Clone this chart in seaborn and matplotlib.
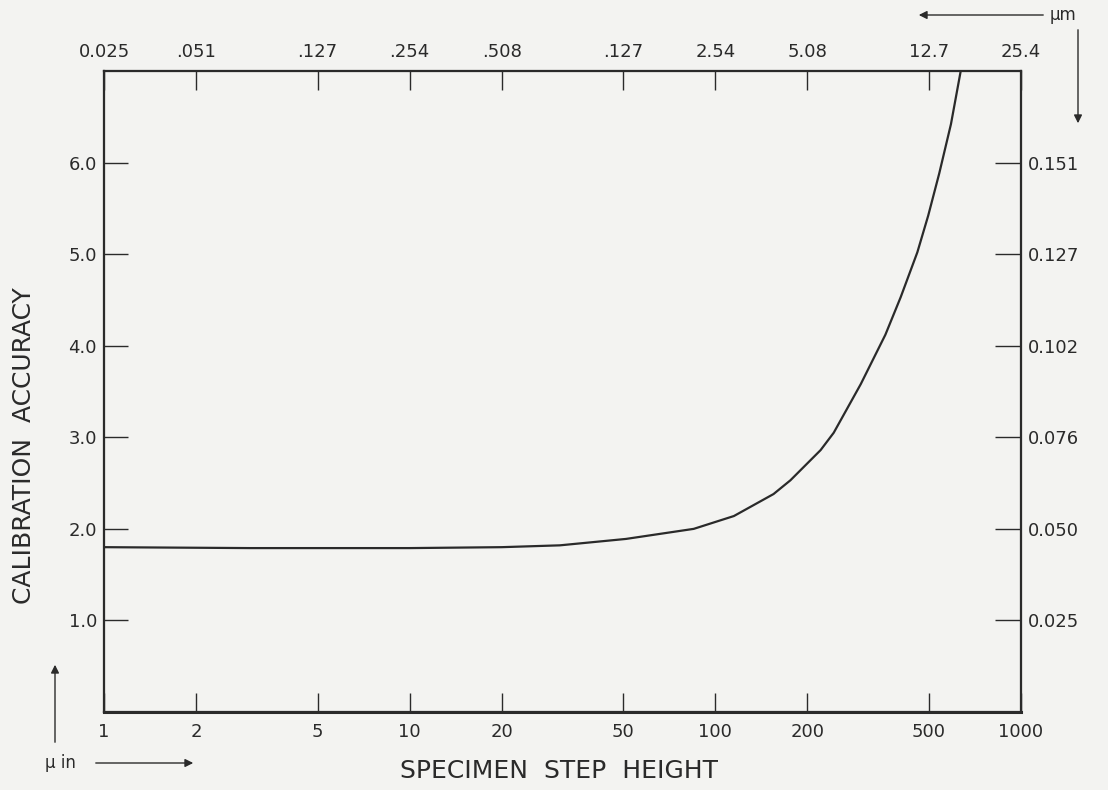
import numpy as np
import pandas as pd
import seaborn as sns
import matplotlib.pyplot as plt

# step height (micro-inch) and calibration accuracy
step_uin = [1, 3, 10, 20, 31, 51, 85, 115, 155, 176, 221, 244, 299, 360, 404, 458, 497, 540, 590, 635]
accuracy = [1.80, 1.79, 1.79, 1.80, 1.82, 1.89, 2.00, 2.14, 2.38, 2.53, 2.86, 3.05, 3.58, 4.12, 4.53,
            5.02, 5.42, 5.88, 6.42, 7.0]

# axis ticks
bottom_ticks = [1, 2, 5, 10, 20, 50, 100, 200, 500, 1000]
bottom_labels = ['1', '2', '5', '10', '20', '50', '100', '200', '500', '1000']
top_labels = ['0.025', '.051', '.127', '.254', '.508', '.127', '2.54', '5.08', '12.7', '25.4']
left_ticks = [1, 2, 3, 4, 5, 6]
left_labels = ['1.0', '2.0', '3.0', '4.0', '5.0', '6.0']
right_labels = ['0.025', '0.050', '0.076', '0.102', '0.127', '0.151']

df = pd.DataFrame({'step': step_uin, 'acc': accuracy})

bg = '#f3f3f1'
ink = '#2a2a2a'

sns.set_theme(style='white')
plt.rcParams['font.family'] = ['DejaVu Sans']

W, H = 1108, 790
fig = plt.figure(figsize=(W / 100, H / 100), dpi=100, facecolor=bg)
ax = fig.add_axes([104 / W, 1 - 712 / H, (1021 - 104) / W, (712 - 71) / H])
ax.set_facecolor(bg)

sns.lineplot(data=df, x='step', y='acc', ax=ax, color=ink, linewidth=1.6)

ax.set_xscale('log')
ax.set_xlim(1, 1000)
ax.set_ylim(0, 7)
ax.set_xticks(bottom_ticks)
ax.set_xticklabels(bottom_labels)
ax.minorticks_off()
ax.set_yticks(left_ticks)
ax.set_yticklabels(left_labels)
ax.set_xlabel('')
ax.set_ylabel('')
ax.tick_params(axis='x', direction='in', length=14, width=1.0, color=ink,
               labelsize=13, labelcolor=ink, pad=8)
ax.tick_params(axis='y', direction='in', length=17, width=1.0, color=ink,
               labelsize=13, labelcolor=ink, pad=5)

# top axis in micrometres
top = ax.twiny()
top.set_xscale('log')
top.set_xlim(1, 1000)
top.set_xticks(bottom_ticks)
top.set_xticklabels(top_labels)
top.minorticks_off()
top.tick_params(axis='x', direction='in', length=14, width=1.0, color=ink,
                labelsize=13, labelcolor=ink, pad=7)

# right axis in micrometres
right = ax.twinx()
right.set_ylim(0, 7)
right.set_yticks(left_ticks)
right.set_yticklabels(right_labels)
right.tick_params(axis='y', direction='in', length=19, width=1.0, color=ink,
                  labelsize=13, labelcolor=ink, pad=5)

for a in (ax, top, right):
    for s in a.spines.values():
        s.set_color(ink)
        s.set_linewidth(1.5)
    a.grid(False)
ax.spines['bottom'].set_linewidth(2.2)

fig.text(24 / W, 1 - 446 / H, 'CALIBRATION  ACCURACY', rotation=90,
         ha='center', va='center', fontsize=18, color=ink)
fig.text(559 / W, 1 - 771 / H, 'SPECIMEN  STEP  HEIGHT',
         ha='center', va='center', fontsize=18, color=ink)

# unit arrows
arrow = dict(arrowstyle='-|>', color=ink, lw=1.0, mutation_scale=12)
fig.text(1050 / W, 1 - 15 / H, 'μm', ha='left', va='center', fontsize=12, color=ink)
ax.annotate('', xy=(916, H - 15), xytext=(1046, H - 15),
            xycoords='figure pixels', textcoords='figure pixels', arrowprops=arrow)
ax.annotate('', xy=(1078, H - 126), xytext=(1078, H - 27),
            xycoords='figure pixels', textcoords='figure pixels', arrowprops=arrow)
fig.text(45 / W, 1 - 763 / H, 'μ in', ha='left', va='center', fontsize=12, color=ink)
ax.annotate('', xy=(196, H - 763), xytext=(93, H - 763),
            xycoords='figure pixels', textcoords='figure pixels', arrowprops=arrow)
ax.annotate('', xy=(55, H - 662), xytext=(55, H - 745),
            xycoords='figure pixels', textcoords='figure pixels', arrowprops=arrow)

fig.savefig('out.png', dpi=100, facecolor=bg)
